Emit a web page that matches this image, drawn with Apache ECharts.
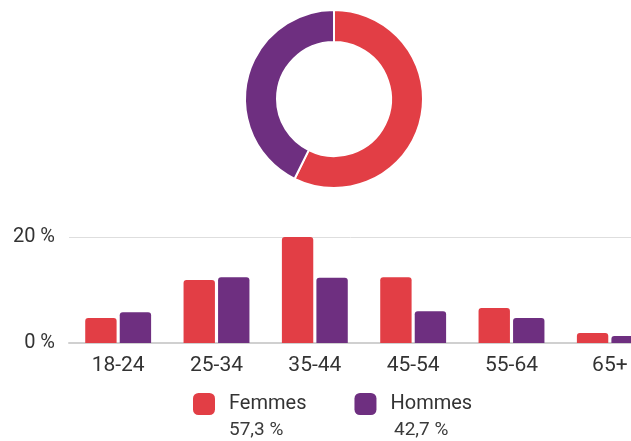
<!DOCTYPE html>
<html><head><meta charset="utf-8">
<script src="https://cdn.jsdelivr.net/npm/echarts@6/dist/echarts.min.js"></script>
<style>html,body{margin:0;padding:0;background:#fff}#c{width:631px;height:441px}</style>
</head><body><div id="c"></div>
<script>
const categories = ['18-24','25-34','35-44','45-54','55-64','65+'];
const femmes = [4.7, 11.9, 20.0, 12.4, 6.6, 1.9];
const hommes = [5.8, 12.4, 12.3, 6.0, 4.7, 1.3];
const seriesNames = ['Femmes','Hommes'];
const shares = [57.3, 42.7];
const yTicks = [0, 20];

const RED = '#E23E45', PURPLE = '#6E2F80';
const FONT = 'Roboto';
const fmt = v => v.toFixed(1).replace('.', ',') + ' %';

const chart = echarts.init(document.getElementById('c'));
chart.setOption({
  animation: false,
  color: [RED, PURPLE],
  textStyle: {fontFamily: FONT},
  grid: {left: 69, top: 237, width: 590, height: 106, outerBoundsMode: 'none', containLabel: false},
  legend: {
    data: seriesNames, left: 188, top: 388, itemWidth: 22, itemHeight: 22, itemGap: 48,
    icon: 'roundRect',
    textStyle: {fontSize: 20, color: '#333', fontFamily: FONT, padding: [2, 0, 0, 9]}
  },
  graphic: shares.map((s, i) => ({
    type: 'text', left: i === 0 ? 229 : 394, top: 421,
    style: {text: fmt(s), fontSize: 19, fill: '#3a3a3a', fontFamily: FONT}
  })),
  xAxis: {
    type: 'category', data: categories,
    axisLine: {lineStyle: {color: '#d0d0d0', width: 2}},
    axisTick: {show: false},
    axisLabel: {fontSize: 21, color: '#333', margin: 12}
  },
  yAxis: {
    type: 'value', min: yTicks[0], max: yTicks[yTicks.length - 1], interval: 20,
    axisLabel: {fontSize: 20, color: '#333', margin: 14, formatter: '{value} %'},
    splitLine: {lineStyle: {color: '#dedede', width: 1}},
    axisLine: {show: false}, axisTick: {show: false}
  },
  series: [
    {name: seriesNames[0], type: 'bar', data: femmes, barGap: '10%', barCategoryGap: '33%',
     itemStyle: {color: RED, borderRadius: [3, 3, 0, 0]}},
    {name: seriesNames[1], type: 'bar', data: hommes,
     itemStyle: {color: PURPLE, borderRadius: [3, 3, 0, 0]}},
    {type: 'pie', center: [334, 99], radius: [57, 89], startAngle: 90, clockwise: true,
     label: {show: false}, labelLine: {show: false},
     itemStyle: {borderColor: '#fff', borderWidth: 2},
     data: seriesNames.map((n, i) => ({name: n, value: shares[i], itemStyle: {color: i === 0 ? RED : PURPLE}}))}
  ]
});
</script></body></html>
